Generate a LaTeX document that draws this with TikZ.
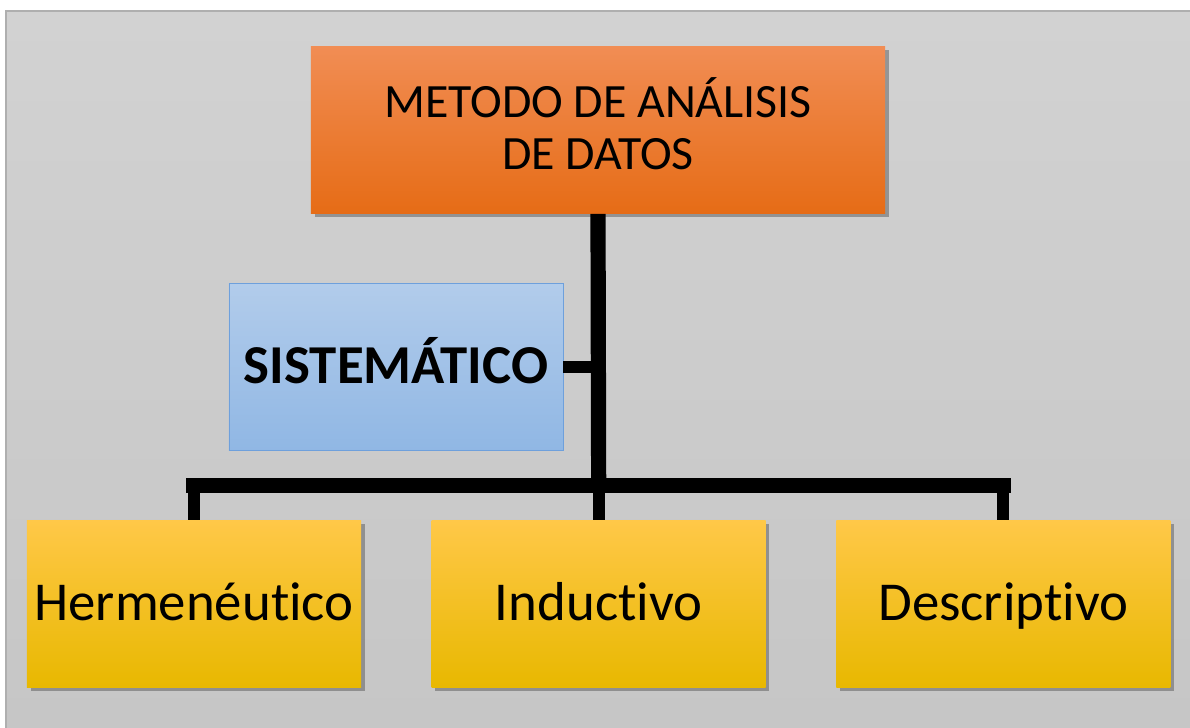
\documentclass[tikz,border=0pt]{standalone}
\usepackage{fontspec}
\setmainfont{Carlito}[Ligatures=NoCommon]
\usepackage{xcolor}
\usetikzlibrary{positioning}
\usetikzlibrary{shadows}

\definecolor{bgtop}{RGB}{210,210,210}
\definecolor{bgbot}{RGB}{198,198,198}
\definecolor{bgline}{RGB}{175,175,175}
\definecolor{otop}{RGB}{241,141,84}
\definecolor{omid}{RGB}{245,126,40}
\definecolor{obot}{RGB}{230,108,22}
\definecolor{btop}{RGB}{178,204,235}
\definecolor{bbot}{RGB}{144,183,228}
\definecolor{bline}{RGB}{110,160,220}
\definecolor{ytop}{RGB}{255,200,72}
\definecolor{ymid}{RGB}{255,192,0}
\definecolor{ybot}{RGB}{232,184,0}

\begin{document}
\begin{tikzpicture}[x=0.025cm,y=-0.025cm]
    \tikzstyle{every node}=[inner sep=2pt,align=center,text=black]
    \tikzstyle{shad}=[drop shadow={shadow xshift=0.09cm,shadow yshift=-0.09cm,opacity=0.45,fill=black!70}]
    \tikzstyle{obox}=[shad,top color=otop,middle color=omid,bottom color=obot,minimum width=14.35cm,minimum height=4.175cm,font=\fontsize{34}{37}\selectfont]
    \tikzstyle{bbox}=[draw=bline,top color=btop,bottom color=bbot,minimum width=8.35cm,minimum height=4.175cm,text height=0.95cm,text depth=0.15cm,font=\fontsize{39}{47}\selectfont\bfseries]
    \tikzstyle{ybox}=[shad,top color=ytop,middle color=ymid,bottom color=ybot,minimum width=8.35cm,minimum height=4.175cm,text height=0.95cm,text depth=0.15cm,font=\fontsize{39}{47}\selectfont]
    \tikzstyle{trunk}=[draw=black,line width=0.38cm]
    \tikzstyle{drop}=[draw=black,line width=0.3cm]

    \useasboundingbox (0,0) rectangle (1190,728);
    \fill[top color=bgtop,bottom color=bgbot] (6,11) rectangle (1190,728);
    \draw[bgline,line width=0.05cm] (1190,11) -- (6,11) -- (6,728);

    \node[obox] (metodo) at (598,130) {METODO DE ANÁLISIS\\DE DATOS\rule[-0.3cm]{0pt}{0pt}} ;
    \node[bbox] (sist) at (396,367) {SISTEMÁTICO} ;

    \node[ybox] (herm) at (194,604) {Hermenéutico} ;
    \node[ybox,right=1.75cm of herm] (ind) {Inductivo} ;
    \node[ybox,right=1.75cm of ind] (desc) {Descriptivo} ;

    \coordinate[above=0.875cm of ind.north] (split) ;

    \draw[trunk] (metodo.south) -- (split) ;
    \draw[drop] (sist.east) -- (sist.east -| metodo.south) ;
    \foreach \b in {herm,ind,desc}{%
      \draw[drop] (\b.north |- split) -- (\b.north) ;}
    \draw[trunk,line cap=rect] (herm.north |- split) -- (desc.north |- split) ;

\end{tikzpicture}
\end{document}
